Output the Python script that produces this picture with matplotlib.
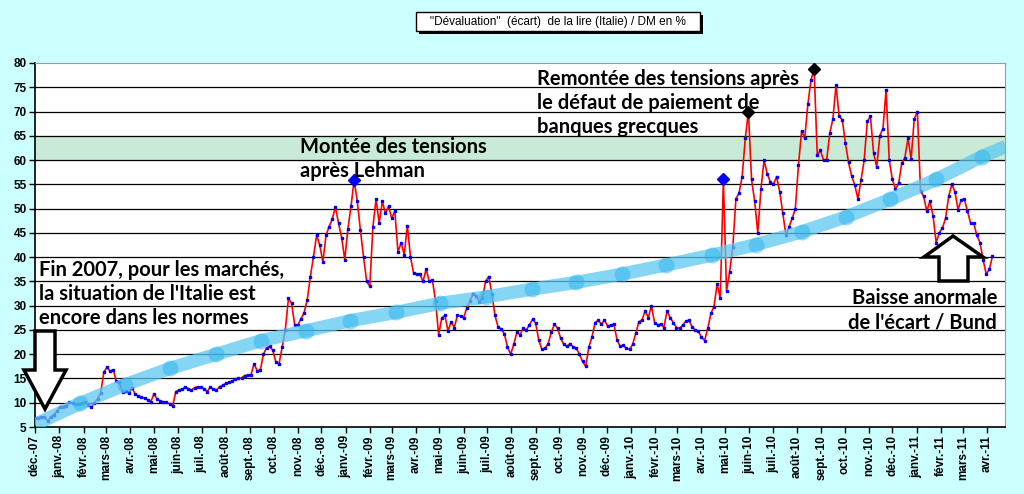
import matplotlib
matplotlib.use("Agg")
import matplotlib.pyplot as plt
from matplotlib.patches import Polygon, Rectangle
import pandas as pd

# spread lire / DM, one reading every 4 days from 1 Dec 2007
start = "2007-12-01"
ecart = [
    6.8, 6.9, 7.0, 7.1, 6.3, 7.0, 7.5, 8.3, 9.2, 9.2,
    9.4, 10.1, 9.9, 9.7, 9.7, 9.9, 10.2, 9.5, 9.1, 10.0,
    10.8, 12.0, 16.3, 17.3, 16.5, 16.8, 14.5, 14.2, 12.2, 12.5,
    12.0, 13.1, 11.8, 11.4, 11.2, 10.9, 10.6, 10.2, 11.8, 10.8,
    10.3, 10.2, 10.1, 9.8, 9.3, 12.3, 12.6, 12.8, 13.2, 12.9,
    12.6, 13.1, 13.3, 13.2, 12.9, 12.3, 13.2, 12.8, 12.6, 13.3,
    13.6, 14.0, 14.2, 14.5, 14.8, 15.0, 15.1, 15.6, 15.7, 15.7,
    18.0, 16.6, 16.7, 20.0, 21.3, 21.6, 20.8, 18.3, 18.0, 21.5,
    25.0, 31.5, 30.5, 26.0, 26.0, 27.3, 28.5, 31.2, 36.0, 40.1,
    44.5, 42.5, 39.0, 44.5, 46.3, 47.8, 50.4, 47.0, 44.0, 39.5,
    45.8, 50.5, 55.9, 51.5, 45.5, 40.0, 35.0, 34.0, 46.3, 52.0,
    47.0, 51.5, 49.0, 50.5, 48.0, 49.5, 41.0, 43.0, 40.5, 46.5,
    40.0, 36.7, 36.5, 36.5, 35.0, 37.5, 35.0, 35.3, 31.0, 24.0,
    27.5, 28.0, 24.8, 26.7, 25.5, 28.0, 27.8, 27.5, 29.5, 31.0,
    32.5, 32.0, 30.8, 31.5, 35.0, 36.0, 32.5, 28.0, 25.6, 25.2,
    24.2, 21.5, 20.0, 22.0, 24.5, 24.0, 25.3, 25.0, 26.0, 27.2,
    26.4, 22.9, 21.0, 21.2, 22.2, 24.5, 26.2, 25.3, 23.3, 22.0,
    21.6, 22.2, 21.5, 21.2, 20.0, 18.5, 17.5, 21.5, 23.5, 26.5,
    27.0, 26.2, 27.0, 25.8, 26.0, 26.2, 23.0, 21.6, 21.8, 21.2,
    21.0, 22.0, 24.3, 26.7, 27.0, 29.0, 27.5, 30.0, 26.5, 26.0,
    26.2, 25.5, 29.0, 27.5, 26.5, 25.5, 25.3, 26.0, 26.8, 27.0,
    25.6, 25.0, 24.7, 23.5, 22.8, 25.3, 28.4, 29.8, 34.5, 31.5,
    56.0, 33.0, 37.0, 42.0, 52.0, 53.2, 56.6, 64.5, 70.0, 56.0,
    51.5, 45.0, 54.0, 60.0, 57.2, 55.5, 55.0, 56.6, 53.5, 49.0,
    44.5, 46.3, 48.0, 50.0, 59.0, 66.0, 64.5, 71.5, 76.5, 78.8,
    61.0, 62.0, 60.0, 60.0, 65.5, 68.5, 75.5, 69.0, 68.3, 63.5,
    59.5, 56.7, 54.8, 52.0, 55.9, 60.0, 68.0, 69.0, 61.5, 58.5,
    65.0, 66.5, 74.5, 60.0, 56.0, 54.0, 55.2, 59.3, 60.5, 64.5,
    60.2, 68.5, 70.0, 53.7, 52.5, 49.5, 51.5, 48.5, 43.0, 45.0,
    46.0, 48.0, 52.5, 55.0, 53.5, 49.8, 51.8, 52.0, 49.5, 47.0,
    47.0, 44.5, 43.0, 39.5, 36.5, 37.5, 40.2,
]
dates = pd.date_range(start, periods=len(ecart), freq="4D")

blue_idx = [102, 220]    # pics bleus
black_idx = [228, 249]   # pics noirs

trend_dates = pd.to_datetime([
    "2007-12-01", "2008-01-28", "2008-03-25", "2008-05-22", "2008-07-20",
    "2008-09-15", "2008-11-11", "2009-01-07", "2009-03-06", "2009-05-02",
    "2009-06-29", "2009-08-27", "2009-10-23", "2009-12-20", "2010-02-15",
    "2010-04-14", "2010-06-10", "2010-08-07", "2010-10-03", "2010-11-28",
    "2011-01-26", "2011-03-25", "2011-04-25",
])
trend = [5.5, 9.9, 13.7, 17.1, 20.0, 22.8, 24.8, 26.9, 28.6, 30.5, 31.8, 33.4,
         34.8, 36.5, 38.4, 40.4, 42.6, 45.2, 48.3, 51.9, 56.0, 60.7, 62.8]

mois = ["janv.", "févr.", "mars", "avr.", "mai", "juin", "juil.", "août",
        "sept.", "oct.", "nov.", "déc."]

W, H = 1024, 494
def fx(x):
    return x / W
def fy(y):
    return 1 - y / H

fig = plt.figure(figsize=(W / 100, H / 100), dpi=100, facecolor="#ccffff")
ax = fig.add_axes([fx(35), fy(427), fx(1005) - fx(35), fy(63) - fy(427)])
ax.set_facecolor("white")

ax.axhspan(60, 65, color="#c8ead6", zorder=0.5)
for v in range(10, 80, 5):
    ax.axhline(v, color="black", lw=0.9, zorder=1)

ax.plot(dates, ecart, color="red", lw=1.2, marker="s", ms=2.0,
        mfc="blue", mec="blue", zorder=3)
ax.plot(dates[blue_idx], [ecart[i] for i in blue_idx], ls="none", marker="D",
        ms=6, color="blue", zorder=4)
ax.plot(dates[black_idx], [ecart[i] for i in black_idx], ls="none", marker="D",
        ms=6, color="black", zorder=4)

ax.plot(trend_dates, trend, color="#5cc8f2", lw=9.5, alpha=0.75,
        solid_capstyle="butt", zorder=5)
ax.plot(trend_dates[1:-1], trend[1:-1], ls="none", marker="o", ms=11.5,
        color="#30b4ec", alpha=0.5, mec="none", zorder=5)

ax.set_ylim(5, 80)
ax.set_yticks(range(5, 81, 5))
ax.set_xlim(pd.Timestamp("2007-12-01"), pd.Timestamp("2011-04-24"))
ticks = pd.date_range("2007-12-01", "2011-04-01", freq="MS")
ax.set_xticks(ticks)
ax.set_xticklabels([f"{mois[d.month - 1]}-{d.strftime('%y')}" for d in ticks],
                   rotation=90, fontsize=8.5, fontweight="bold",
                   family="Liberation Sans")
for lab in ax.get_yticklabels():
    lab.set_fontsize(8.5)
    lab.set_fontweight("bold")
    lab.set_family("Liberation Sans")
ax.tick_params(axis="both", length=4, width=1, color="black", pad=2)
ax.spines["top"].set_color("#999999")
ax.spines["right"].set_color("#999999")
ax.spines["left"].set_linewidth(1.2)
ax.spines["bottom"].set_linewidth(1.2)

# titre en cadre avec ombre
fig.patches.append(Rectangle((fx(419), fy(34)), fx(284), fy(0) - fy(19),
                             transform=fig.transFigure, fc="black", ec="none"))
fig.patches.append(Rectangle((fx(416), fy(31)), fx(284), fy(0) - fy(19),
                             transform=fig.transFigure, fc="white", ec="black", lw=1))
fig.text(fx(558), fy(21.5), '"Dévaluation"  (écart)  de la lire (Italie) / DM en %',
         ha="center", va="center", fontsize=8.5, family="Liberation Sans")

note = dict(fontsize=14.5, fontweight="bold", family="Lato", color="black",
            linespacing=1.25, zorder=6)
fig.text(fx(300), fy(177), "Montée des tensions\naprès Lehman",
         va="baseline", ha="left", **note)
fig.text(fx(537), fy(133), "Remontée des tensions après\nle défaut de paiement de\nbanques grecques",
         va="baseline", ha="left", **note)
fig.text(fx(39), fy(324), "Fin 2007, pour les marchés,\nla situation de l'Italie est\nencore dans les normes",
         va="baseline", ha="left", **note)
fig.text(fx(997), fy(328), "Baisse anormale\nde l'écart / Bund",
         va="baseline", ha="right", multialignment="right", **note)

down = [(35, 331), (55, 331), (55, 370), (66, 370), (45, 409), (24, 370), (35, 370)]
up = [(939, 281), (968, 281), (968, 257), (983, 257), (953, 236), (924, 257), (939, 257)]
for pts in (down, up):
    fig.patches.append(Polygon([(fx(x), fy(y)) for x, y in pts], closed=True,
                               transform=fig.transFigure, fc="white", ec="black",
                               lw=2.5, joinstyle="miter", zorder=10))

fig.savefig("out.png", dpi=100, facecolor=fig.get_facecolor())
